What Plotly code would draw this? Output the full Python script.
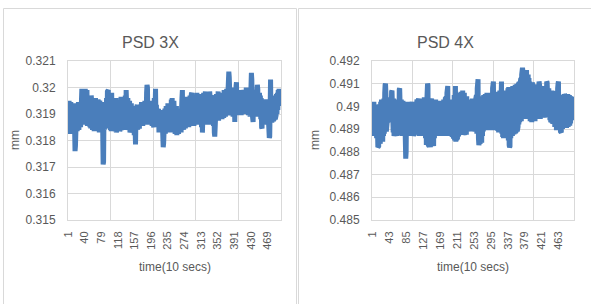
import plotly.graph_objects as go

# ---------------- data ----------------
psd_3x = [
    0.31930, 0.31840, 0.31950, 0.31860, 0.31900, 0.31825, 0.31945, 0.31870, 0.31915, 0.31835,
    0.31940, 0.31850, 0.31920, 0.31830, 0.31935, 0.31870, 0.31760, 0.31780, 0.31925, 0.31845,
    0.31940, 0.31835, 0.31910, 0.31860, 0.31945, 0.31840, 0.31905, 0.31870, 0.31930, 0.31850,
    0.31960, 0.31870, 0.31995, 0.31880, 0.31990, 0.31865, 0.31975, 0.31890, 0.31985, 0.31870,
    0.31995, 0.31860, 0.31970, 0.31880, 0.31990, 0.31855, 0.31950, 0.31875, 0.31970, 0.31860,
    0.31965, 0.31850, 0.31940, 0.31845, 0.31970, 0.31860, 0.31930, 0.31840, 0.31955, 0.31870,
    0.31950, 0.31835, 0.31925, 0.31860, 0.31960, 0.31840, 0.31915, 0.31850, 0.31945, 0.31835,
    0.31955, 0.31845, 0.31920, 0.31830, 0.31950, 0.31860, 0.31910, 0.31840, 0.31940, 0.31850,
    0.31935, 0.31830, 0.31710, 0.31720, 0.31900, 0.31840, 0.31945, 0.31860, 0.31925, 0.31845,
    0.31960, 0.31850, 0.31985, 0.31870, 0.31990, 0.31845, 0.31940, 0.31860, 0.31955, 0.31840,
    0.31945, 0.31835, 0.31980, 0.31855, 0.31960, 0.31840, 0.31930, 0.31865, 0.31950, 0.31835,
    0.31940, 0.31845, 0.31960, 0.31830, 0.31925, 0.31855, 0.31950, 0.31840, 0.31935, 0.31860,
    0.31950, 0.31835, 0.31930, 0.31850, 0.31965, 0.31840, 0.31920, 0.31860, 0.31955, 0.31845,
    0.31945, 0.31850, 0.31960, 0.31840, 0.31970, 0.31855, 0.31990, 0.31860, 0.31950, 0.31845,
    0.31960, 0.31840, 0.31935, 0.31855, 0.31950, 0.31830, 0.31920, 0.31850, 0.31940, 0.31835,
    0.31925, 0.31830, 0.31910, 0.31845, 0.31930, 0.31820, 0.31900, 0.31790, 0.31785, 0.31880,
    0.31920, 0.31850, 0.31935, 0.31840, 0.31910, 0.31860, 0.31930, 0.31845, 0.31905, 0.31865,
    0.31935, 0.31860, 0.31945, 0.31870, 0.31920, 0.31855, 0.31940, 0.31875, 0.31925, 0.31860,
    0.31950, 0.31865, 0.31940, 0.31870, 0.31980, 0.32010, 0.32000, 0.31880, 0.31945, 0.31860,
    0.31935, 0.31875, 0.31950, 0.31860, 0.31930, 0.31870, 0.31945, 0.31855, 0.31925, 0.31865,
    0.31940, 0.31850, 0.31960, 0.31865, 0.31985, 0.31995, 0.31870, 0.31935, 0.31850, 0.31920,
    0.31905, 0.31840, 0.31920, 0.31830, 0.31895, 0.31850, 0.31915, 0.31835, 0.31900, 0.31845,
    0.31910, 0.31830, 0.31800, 0.31775, 0.31790, 0.31900, 0.31835, 0.31920, 0.31825, 0.31905,
    0.31930, 0.31840, 0.31910, 0.31830, 0.31940, 0.31850, 0.31915, 0.31835, 0.31925, 0.31845,
    0.31940, 0.31830, 0.31955, 0.31850, 0.31960, 0.31835, 0.31930, 0.31845, 0.31950, 0.31830,
    0.31925, 0.31825, 0.31910, 0.31840, 0.31930, 0.31820, 0.31900, 0.31835, 0.31920, 0.31825,
    0.31905, 0.31830, 0.31920, 0.31845, 0.31900, 0.31830, 0.31915, 0.31960, 0.31990, 0.31850,
    0.31955, 0.31840, 0.31930, 0.31855, 0.31960, 0.31845, 0.31940, 0.31860, 0.31965, 0.31850,
    0.31950, 0.31855, 0.31965, 0.31850, 0.31940, 0.31860, 0.31970, 0.31855, 0.31945, 0.31975,
    0.31980, 0.31860, 0.31950, 0.31865, 0.31965, 0.31855, 0.31945, 0.31870, 0.31960, 0.31860,
    0.31970, 0.31865, 0.31980, 0.31860, 0.31950, 0.31875, 0.31975, 0.31865, 0.31955, 0.31870,
    0.31965, 0.31860, 0.31975, 0.31850, 0.31945, 0.31830, 0.31960, 0.31865, 0.31980, 0.31870,
    0.31960, 0.31875, 0.31985, 0.31865, 0.31950, 0.31870, 0.31970, 0.31860, 0.31955, 0.31875,
    0.31965, 0.31865, 0.31985, 0.31870, 0.31945, 0.31860, 0.31970, 0.31875, 0.31955, 0.31865,
    0.31960, 0.31855, 0.31940, 0.31830, 0.31815, 0.31850, 0.31965, 0.31870, 0.31975, 0.31880,
    0.31960, 0.31885, 0.31985, 0.31875, 0.31970, 0.31890, 0.31955, 0.31880, 0.31975, 0.31885,
    0.31965, 0.31880, 0.31980, 0.31890, 0.31960, 0.31885, 0.31990, 0.31895, 0.31970, 0.31890,
    0.31985, 0.31900, 0.31995, 0.31905, 0.31990, 0.32010, 0.32050, 0.32060, 0.32040, 0.31910,
    0.31990, 0.31895, 0.31975, 0.31910, 0.32000, 0.31900, 0.31985, 0.31890, 0.31995, 0.31905,
    0.31980, 0.31870, 0.31990, 0.31900, 0.32005, 0.32020, 0.31910, 0.31990, 0.31895, 0.31985,
    0.31905, 0.31990, 0.31900, 0.31975, 0.31910, 0.31985, 0.31895, 0.31970, 0.31905, 0.31990,
    0.31910, 0.31980, 0.31900, 0.31970, 0.31915, 0.31985, 0.31905, 0.31995, 0.32000, 0.31910,
    0.31975, 0.31905, 0.31985, 0.31895, 0.31965, 0.31910, 0.31980, 0.31890, 0.32000, 0.32040,
    0.32055, 0.32030, 0.31900, 0.31880, 0.31870, 0.31975, 0.31895, 0.31985, 0.31900, 0.31970,
    0.31905, 0.31990, 0.31895, 0.31985, 0.32010, 0.31995, 0.31890, 0.31975, 0.31900, 0.31980,
    0.31895, 0.31970, 0.31880, 0.31960, 0.31850, 0.31845, 0.31950, 0.31875, 0.31945, 0.31880,
    0.31950, 0.31870, 0.31940, 0.31865, 0.31955, 0.31875, 0.31945, 0.31860, 0.31950, 0.31870,
    0.31940, 0.31830, 0.31810, 0.31815, 0.32020, 0.32030, 0.31880, 0.31960, 0.31870, 0.31950,
    0.31880, 0.31965, 0.31875, 0.31955, 0.31885, 0.31970, 0.31880, 0.31960, 0.31895, 0.31975,
    0.31900, 0.31980, 0.31915, 0.31990, 0.31930, 0.31995, 0.31940, 0.31985, 0.31935, 0.31960,
]

psd_4x = [
    0.49015, 0.48880, 0.48990, 0.48870, 0.49020, 0.48895, 0.48975, 0.48875, 0.49005, 0.48890,
    0.49000, 0.48860, 0.48985, 0.48830, 0.48820, 0.48960, 0.48825, 0.49010, 0.48840, 0.48990,
    0.48835, 0.49020, 0.48850, 0.49030, 0.48860, 0.49000, 0.48845, 0.49025, 0.48870, 0.49035,
    0.48880, 0.49060, 0.49095, 0.49100, 0.49050, 0.48890, 0.49030, 0.48930, 0.49020, 0.48935,
    0.49020, 0.48940, 0.49030, 0.48935, 0.49015, 0.48945, 0.49040, 0.48930, 0.49065, 0.49070,
    0.48900, 0.49060, 0.48885, 0.49035, 0.48870, 0.49020, 0.48890, 0.49030, 0.48875, 0.49015,
    0.48880, 0.49020, 0.48870, 0.49030, 0.48885, 0.49010, 0.48890, 0.49075, 0.49080, 0.48880,
    0.49050, 0.48875, 0.49030, 0.48890, 0.49010, 0.48870, 0.49025, 0.48885, 0.49000, 0.48880,
    0.49015, 0.48870, 0.48790, 0.48770, 0.48800, 0.49000, 0.48880, 0.49020, 0.48890, 0.49005,
    0.48875, 0.49010, 0.48885, 0.48990, 0.48870, 0.49015, 0.48880, 0.49000, 0.48890, 0.49020,
    0.48880, 0.49010, 0.48870, 0.49005, 0.48885, 0.48995, 0.48875, 0.49020, 0.48880, 0.49000,
    0.48885, 0.49030, 0.48875, 0.49020, 0.48890, 0.49035, 0.48870, 0.49015, 0.48885, 0.49025,
    0.48875, 0.49030, 0.48890, 0.49020, 0.48880, 0.49035, 0.48885, 0.49025, 0.48870, 0.49040,
    0.48880, 0.49030, 0.48860, 0.49040, 0.48830, 0.49010, 0.49060, 0.49100, 0.49095, 0.48830,
    0.49020, 0.48825, 0.49030, 0.48840, 0.48820, 0.49015, 0.48830, 0.49035, 0.48825, 0.49025,
    0.48835, 0.49020, 0.48825, 0.49010, 0.48860, 0.49025, 0.48870, 0.49030, 0.48880, 0.49015,
    0.48875, 0.49020, 0.48885, 0.49005, 0.48870, 0.49025, 0.48880, 0.49010, 0.48875, 0.49020,
    0.48885, 0.49015, 0.48870, 0.49025, 0.48880, 0.49000, 0.48875, 0.49030, 0.48885, 0.49020,
    0.48875, 0.49035, 0.48885, 0.49040, 0.48870, 0.49060, 0.49085, 0.49090, 0.48880, 0.49030,
    0.48875, 0.49020, 0.48885, 0.49030, 0.48870, 0.49015, 0.48880, 0.49025, 0.48865, 0.49010,
    0.48870, 0.49030, 0.48860, 0.49050, 0.48850, 0.49080, 0.49090, 0.48845, 0.49035, 0.48850,
    0.49040, 0.48855, 0.49050, 0.48870, 0.49030, 0.48880, 0.49045, 0.48875, 0.49060, 0.48880,
    0.49065, 0.48880, 0.49050, 0.48885, 0.49070, 0.48875, 0.49040, 0.48890, 0.49060, 0.48880,
    0.49055, 0.48885, 0.49035, 0.48875, 0.49045, 0.48890, 0.49030, 0.48895, 0.49020, 0.48900,
    0.49025, 0.48905, 0.49015, 0.48895, 0.49030, 0.48900, 0.49020, 0.48890, 0.49035, 0.48900,
    0.49025, 0.48895, 0.49035, 0.48890, 0.49020, 0.48900, 0.49030, 0.48885, 0.49050, 0.48880,
    0.49080, 0.49110, 0.49120, 0.48860, 0.48830, 0.48840, 0.49030, 0.48835, 0.49040, 0.48850,
    0.49030, 0.48840, 0.49045, 0.48870, 0.49035, 0.48890, 0.49050, 0.48900, 0.49040, 0.48895,
    0.49055, 0.48905, 0.49040, 0.48895, 0.49060, 0.48900, 0.49045, 0.48910, 0.49050, 0.48895,
    0.49040, 0.48900, 0.49055, 0.48910, 0.49045, 0.48895, 0.49060, 0.48900, 0.49080, 0.49105,
    0.49110, 0.48905, 0.49060, 0.48895, 0.49050, 0.48910, 0.49055, 0.48900, 0.49065, 0.48905,
    0.49050, 0.48895, 0.49060, 0.48885, 0.49055, 0.48900, 0.49070, 0.48890, 0.49085, 0.49100,
    0.49110, 0.48880, 0.49060, 0.48865, 0.49050, 0.48860, 0.49065, 0.48870, 0.49055, 0.48865,
    0.49060, 0.48870, 0.49070, 0.48880, 0.49075, 0.48875, 0.49080, 0.48850, 0.49085, 0.48830,
    0.48820, 0.48825, 0.49080, 0.48860, 0.49085, 0.48880, 0.49075, 0.48870, 0.49090, 0.48885,
    0.49090, 0.48880, 0.49080, 0.48890, 0.49095, 0.48885, 0.49085, 0.48895, 0.49100, 0.48890,
    0.49095, 0.48910, 0.49105, 0.48920, 0.49110, 0.48930, 0.49100, 0.48940, 0.49125, 0.48935,
    0.49140, 0.49160, 0.49170, 0.49155, 0.48945, 0.49120, 0.48950, 0.49130, 0.48945, 0.49135,
    0.48950, 0.49150, 0.49160, 0.48945, 0.49135, 0.48955, 0.49140, 0.48950, 0.49125, 0.48945,
    0.49110, 0.48935, 0.49100, 0.48940, 0.49095, 0.48930, 0.49105, 0.48935, 0.49090, 0.48940,
    0.49090, 0.48945, 0.49080, 0.48935, 0.49095, 0.48940, 0.49085, 0.48950, 0.49090, 0.48945,
    0.49080, 0.48950, 0.49100, 0.49110, 0.48955, 0.49085, 0.48945, 0.49080, 0.48955, 0.49090,
    0.48950, 0.49085, 0.48960, 0.49075, 0.48955, 0.49090, 0.48950, 0.49080, 0.48960, 0.49095,
    0.48955, 0.49100, 0.49110, 0.49105, 0.48960, 0.49085, 0.48955, 0.49080, 0.48965, 0.49075,
    0.48940, 0.49065, 0.48930, 0.49060, 0.48935, 0.49070, 0.48925, 0.49055, 0.48930, 0.49065,
    0.48920, 0.49060, 0.48910, 0.49055, 0.48900, 0.49065, 0.48895, 0.49050, 0.48900, 0.49080,
    0.49100, 0.49110, 0.48900, 0.49050, 0.48895, 0.49045, 0.48890, 0.49040, 0.48885, 0.48890,
    0.49040, 0.48900, 0.49050, 0.48910, 0.49045, 0.48905, 0.49055, 0.48915, 0.49040, 0.48910,
    0.49050, 0.48905, 0.49045, 0.48915, 0.49055, 0.48910, 0.49040, 0.48920, 0.49050, 0.48915,
    0.49045, 0.48925, 0.49040, 0.48935, 0.49035, 0.48940, 0.49030, 0.48945, 0.49035, 0.48950,
]

time_index = list(range(1, len(psd_3x) + 1))

x_ticks_3x = [1, 40, 79, 118, 157, 196, 235, 274, 313, 352, 391, 430, 469]
x_ticks_4x = [1, 43, 85, 127, 169, 211, 253, 295, 337, 379, 421, 463]
x_grid = [0.5, 100.5, 200.5, 300.5, 400.5, 500.5]

y_ticks_3x = [0.315, 0.316, 0.317, 0.318, 0.319, 0.320, 0.321]
y_text_3x = ["0.315", "0.316", "0.317", "0.318", "0.319", "0.32", "0.321"]
y_ticks_4x = [0.485, 0.486, 0.487, 0.488, 0.489, 0.490, 0.491, 0.492]
y_text_4x = ["0.485", "0.486", "0.487", "0.488", "0.489", "0.49", "0.491", "0.492"]

titles = ["PSD 3X", "PSD 4X"]
x_title = "time(10 secs)"
y_title = "mm"

# ---------------- layout helpers ----------------
W, H = 591, 304
FONT = "Liberation Sans, Arial, sans-serif"
TEXT = "#595959"
GRID = "#d9d9d9"
LINE = "#4a7ebb"


def px_x(p):
    return p / W


def px_y(p):
    return (H - p) / H


fig = go.Figure()
fig.add_trace(go.Scatter(x=time_index, y=psd_3x, mode="lines",
                         line=dict(color=LINE, width=5), xaxis="x", yaxis="y",
                         showlegend=False, hoverinfo="x+y"))
fig.add_trace(go.Scatter(x=time_index, y=psd_4x, mode="lines",
                         line=dict(color=LINE, width=5), xaxis="x2", yaxis="y2",
                         showlegend=False, hoverinfo="x+y"))


def xaxis(dom, ticks, anchor):
    return dict(
        domain=dom, anchor=anchor, range=[0.5, len(time_index) + 0.5],
        automargin=False,
        tickmode="array", tickvals=ticks, ticktext=[str(t) for t in ticks],
        tickangle=-90, tickfont=dict(family=FONT, size=11, color=TEXT),
        showgrid=False, zeroline=False, showline=True, linecolor=GRID,
        mirror=True, ticks="outside", ticklen=6, tickcolor="rgba(0,0,0,0)",
        minor=dict(tickmode="array", tickvals=x_grid, showgrid=True,
                   gridcolor=GRID, gridwidth=1, ticks=""),
        fixedrange=True,
    )


def yaxis(dom, ticks, text, anchor):
    return dict(
        domain=dom, anchor=anchor, range=[ticks[0], ticks[-1]],
        automargin=False,
        tickmode="array", tickvals=ticks, ticktext=text,
        tickfont=dict(family=FONT, size=12, color=TEXT),
        showgrid=True, gridcolor=GRID, gridwidth=1, zeroline=False,
        showline=True, linecolor=GRID, mirror=True,
        ticks="outside", ticklen=9, tickcolor="rgba(0,0,0,0)",
        fixedrange=True,
    )


ydom = [px_y(220), px_y(61)]
fig.update_layout(
    template="none",
    autosize=False,
    width=W, height=H, margin=dict(l=0, r=0, t=0, b=0, pad=0, autoexpand=False),
    paper_bgcolor="white", plot_bgcolor="white",
    xaxis=xaxis([px_x(68), px_x(281)], x_ticks_3x, "y"),
    yaxis=yaxis(ydom, y_ticks_3x, y_text_3x, "x"),
    xaxis2=xaxis([px_x(372), px_x(574)], x_ticks_4x, "y2"),
    yaxis2=yaxis(ydom, y_ticks_4x, y_text_4x, "x2"),
)

# chart area borders
fig.add_shape(type="rect", xref="paper", yref="paper",
              x0=px_x(3.5), x1=px_x(296.5), y0=-0.2, y1=px_y(8.5),
              line=dict(color=GRID, width=1), fillcolor="rgba(0,0,0,0)", layer="below")
fig.add_shape(type="rect", xref="paper", yref="paper",
              x0=px_x(298.5), x1=1.2, y0=-0.2, y1=px_y(8.5),
              line=dict(color=GRID, width=1), fillcolor="rgba(0,0,0,0)", layer="below")

centers = [(68 + 281) / 2, (372 + 574) / 2]
title_x = [150, 445]
ylab_x = [15, 315]
for i in range(2):
    fig.add_annotation(text=titles[i], xref="paper", yref="paper",
                       x=px_x(title_x[i]), y=px_y(42), xanchor="center", yanchor="middle",
                       showarrow=False, font=dict(family=FONT, size=16, color=TEXT))
    fig.add_annotation(text=x_title, xref="paper", yref="paper",
                       x=px_x(centers[i]), y=px_y(267), xanchor="center", yanchor="middle",
                       showarrow=False, font=dict(family=FONT, size=12, color=TEXT))
    fig.add_annotation(text=y_title, xref="paper", yref="paper", textangle=-90,
                       x=px_x(ylab_x[i]), y=px_y(140), xanchor="center", yanchor="middle",
                       showarrow=False, font=dict(family=FONT, size=12, color=TEXT))

fig.write_html(
    "out.html",
    config={"displayModeBar": False, "responsive": False},
    post_script=(
        "document.documentElement.style.margin='0px';"
        "document.body.style.margin='0px';"
        "document.body.style.padding='0px';"
        "document.body.style.overflow='hidden';"
    ),
)
